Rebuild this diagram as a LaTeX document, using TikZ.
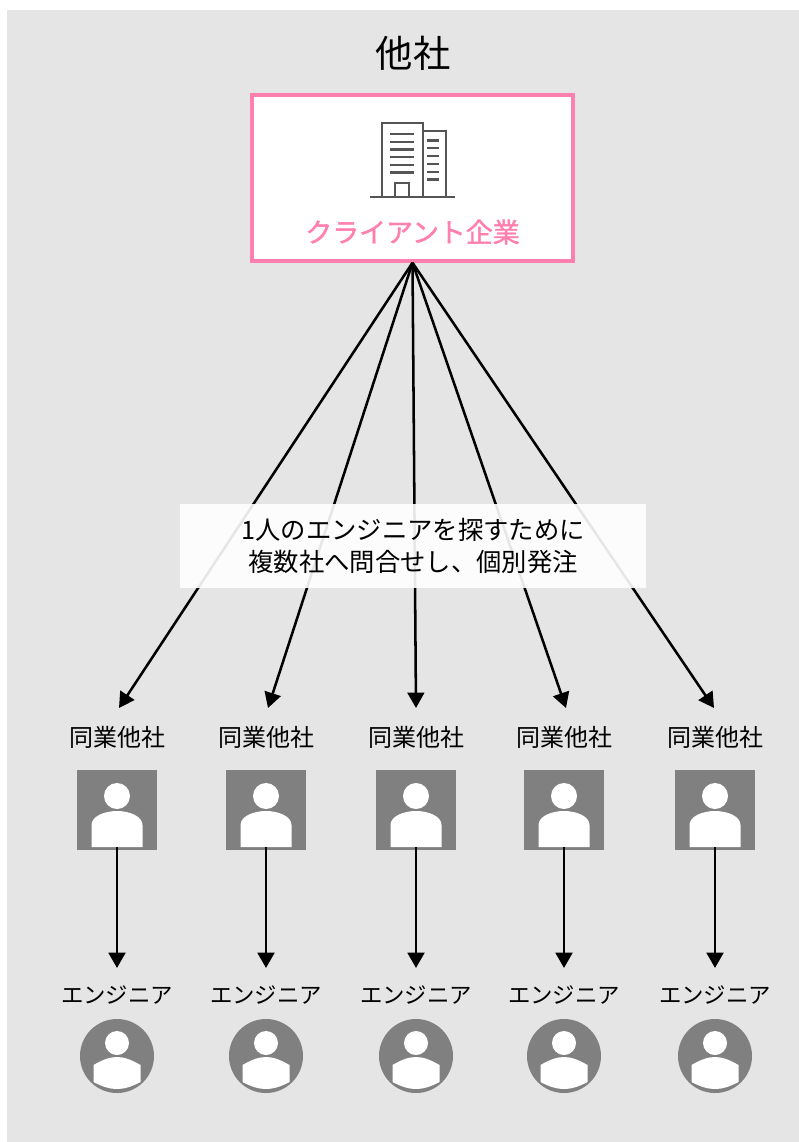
\documentclass[tikz,border=0pt]{standalone}
\usepackage{fontspec}
\setmainfont{Noto Sans CJK JP}
\newfontfamily\clientfont[FakeBold=1.5]{Noto Sans CJK JP}
\usetikzlibrary{positioning,arrows.meta}
\definecolor{panelgray}{HTML}{E5E5E5}
\definecolor{clientpink}{HTML}{FF80AE}
\definecolor{icongray}{HTML}{808080}
\definecolor{towergray}{HTML}{555555}
\tikzset{
    caption/.style={font=\fontsize{18pt}{22pt}\selectfont, inner sep=0pt},
    engcaption/.style={font=\fontsize{16.8pt}{20pt}\selectfont, inner sep=0pt},
    order/.style={->, line width=1.9pt},
    assign/.style={->, line width=2.2pt},
    tower/.style={draw=towergray, line width=2.1pt},
    iconbody/.style={fill=white, draw=none}
}

\begin{document}
\begin{tikzpicture}[x=0.75pt, y=-0.75pt, >={Triangle[length=11.5pt, width=12.5pt]}]
    \useasboundingbox (0,0) rectangle (799,1142);

    % Panel
    \fill[panelgray] (7,10) rectangle (799,1142);
    \node[font=\fontsize{28pt}{32pt}\selectfont, inner sep=0pt] (title) at (413,53) {他社};

    % Client
    \node[draw=clientpink, fill=white, line width=2.6pt, minimum width=241pt, minimum height=124.5pt, inner sep=0pt] (client) at (412.5,178) {};
    \node[font=\fontsize{20.2pt}{24pt}\clientfont, text=clientpink, inner sep=0pt] (clientname) at (412.5,232) {クライアント企業};

    % Building
    \draw[tower] (382,197) -- (382,123) -- (423,123) -- (423,197);
    \draw[tower] (423,131) -- (446,131) -- (446,197);
    \draw[tower] (395,197) -- (395,183) -- (409,183) -- (409,197);
    \draw[tower] (370,197) -- (455,197);
    \foreach \y in {134,142,149.5,157,165,172.5}
        \draw[tower] (390,\y) -- (414,\y);
    \foreach \y in {140.5,148,156,164,172,179.5}
        \draw[tower] (427,\y) -- (439,\y);

    % Companies and engineers
    \foreach \i/\x/\tip in {1/117/119, 2/266/268, 3/416/416, 4/564/566, 5/715/714} {
        \coordinate (tip\i) at (\tip,708);
        \coordinate (engtip\i) at (\x,968);
        \node[caption] (peername\i) at (\x,737) {同業他社};
        \node[fill=icongray, minimum size=60pt, inner sep=0pt] (peer\i) at (\x,810) {};
        \node[engcaption] (engname\i) at (\x,995) {エンジニア};
        \node[circle, fill=icongray, minimum size=55.5pt, inner sep=0pt] (eng\i) at (\x,1056) {};

        \begin{scope}[shift={(\x,0)}]
            \fill[white] (0,796) circle (13);
            \fill[iconbody] (-25.5,847) -- (-25.5,825) .. controls (-25.5,816) and (-12,811) .. (0,811)
                .. controls (12,811) and (25.5,816) .. (25.5,825) -- (25.5,847) -- cycle;
            \fill[white] (0,1043) circle (12);
            \fill[iconbody] (-23.5,1082) -- (-23.5,1065) .. controls (-14,1059.5) and (-7,1057) .. (0,1057)
                .. controls (7,1057) and (14,1059.5) .. (23.5,1065) -- (23.5,1082)
                .. controls (14,1087) and (7,1089) .. (0,1089)
                .. controls (-7,1089) and (-14,1087) .. (-23.5,1082) -- cycle;
        \end{scope}

        \draw[order] (client.south) -- (tip\i);
        \draw[assign] ([yshift=2.25pt]peer\i.south) -- (engtip\i);
    }

    % Note
    \node[fill=white, fill opacity=0.9, text opacity=1, minimum width=349.5pt, minimum height=63pt, inner sep=0pt, align=center,
        font=\fontsize{19pt}{24pt}\selectfont] (note) at (413,546) {1人のエンジニアを探すために\\複数社へ問合せし、個別発注};
\end{tikzpicture}
\end{document}
